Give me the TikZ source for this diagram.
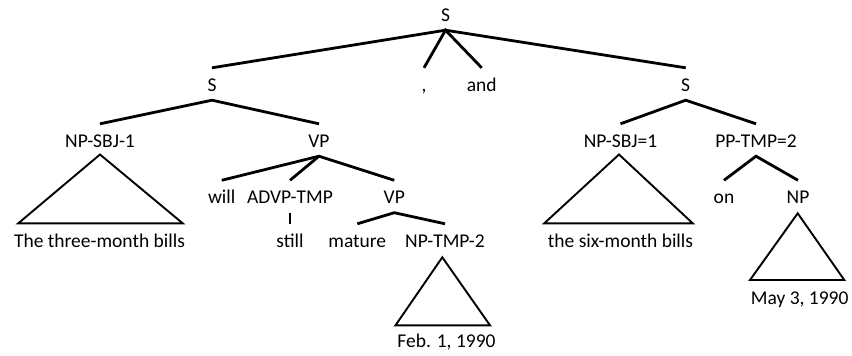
\documentclass[tikz,border=0pt]{standalone}
\usepackage{fontspec}
\setmainfont{Carlito}
\begin{document}
\begin{tikzpicture}[x=1pt,y=-1pt,
  lbl/.style={anchor=base,inner xsep=0pt,inner ysep=8pt,text height=15pt,text depth=1pt,font=\fontsize{19.5}{23}\selectfont},
  branch/.style={line width=2.8pt},
  tri/.style={line width=1.9pt,line join=miter}]
\useasboundingbox (0,0) rectangle (852,356);
% labels
\node[lbl] (S0) at (445.5,21) {S};
\node[lbl] (S1) at (212,91) {S};
\node[lbl] (cm) at (424,91) {,};
\node[lbl] (and) at (481.7,91) {and};
\node[lbl] (S2) at (685.7,91) {S};
\node[lbl] (npsbj1) at (100,147) {NP-SBJ-1};
\node[lbl] (vp1) at (319,147) {VP};
\node[lbl] (npsbj2) at (620.5,147) {NP-SBJ=1};
\node[lbl] (pptmp) at (756,147) {PP-TMP=2};
\node[lbl] (will) at (221.7,203.5) {will};
\node[lbl] (advp) at (290,203.5) {ADVP-TMP};
\node[lbl] (vp2) at (394.3,203.5) {VP};
\node[lbl] (on) at (724,203.5) {on};
\node[lbl] (np) at (798,203.5) {NP};
\node[lbl] (leaf1) at (99.5,247) {The three-month bills};
\node[lbl] (still) at (290,247) {still};
\node[lbl] (mature) at (357.3,247) {mature};
\node[lbl] (nptmp) at (445,247) {NP-TMP-2};
\node[lbl] (leaf2) at (620.5,247) {the six-month bills};
\node[lbl] (leaf3) at (799.7,304) {May 3, 1990};
\node[lbl] (leaf4) at (446.5,347) {Feb. 1, 1990};
% branches
\draw[branch] (S1.north) -- (S0.south) -- (S2.north);
\draw[branch] (cm.north) -- (S0.south) -- (and.north);
\draw[branch] (npsbj1.north) -- (S1.south) -- (vp1.north);
\draw[branch] (npsbj2.north) -- (S2.south) -- (pptmp.north);
\draw[branch] (will.north) -- (vp1.south) -- (vp2.north);
\draw[branch] (vp1.south) -- (advp.north);
\draw[branch] (advp.south) -- (still.north);
\draw[branch] (mature.north) -- (vp2.south) -- (nptmp.north);
\draw[branch] (on.north) -- (pptmp.south) -- (np.north);
% triangles
\coordinate (a1) at (100,154.5);
\coordinate (b1l) at (18.3,223.3);
\coordinate (b1r) at (182.7,223.3);
\draw[tri] (a1) -- (b1l) -- (b1r) -- cycle;
\coordinate (a2) at (619,154.5);
\coordinate (b2l) at (544.3,223.3);
\coordinate (b2r) at (692.7,223.3);
\draw[tri] (a2) -- (b2l) -- (b2r) -- cycle;
\coordinate (a3) at (442.3,257.3);
\coordinate (b3l) at (395.5,325.3);
\coordinate (b3r) at (490,325.3);
\draw[tri] (a3) -- (b3l) -- (b3r) -- cycle;
\coordinate (a4) at (797.7,213.3);
\coordinate (b4l) at (750,280);
\coordinate (b4r) at (844.3,280);
\draw[tri] (a4) -- (b4l) -- (b4r) -- cycle;
\end{tikzpicture}
\end{document}
